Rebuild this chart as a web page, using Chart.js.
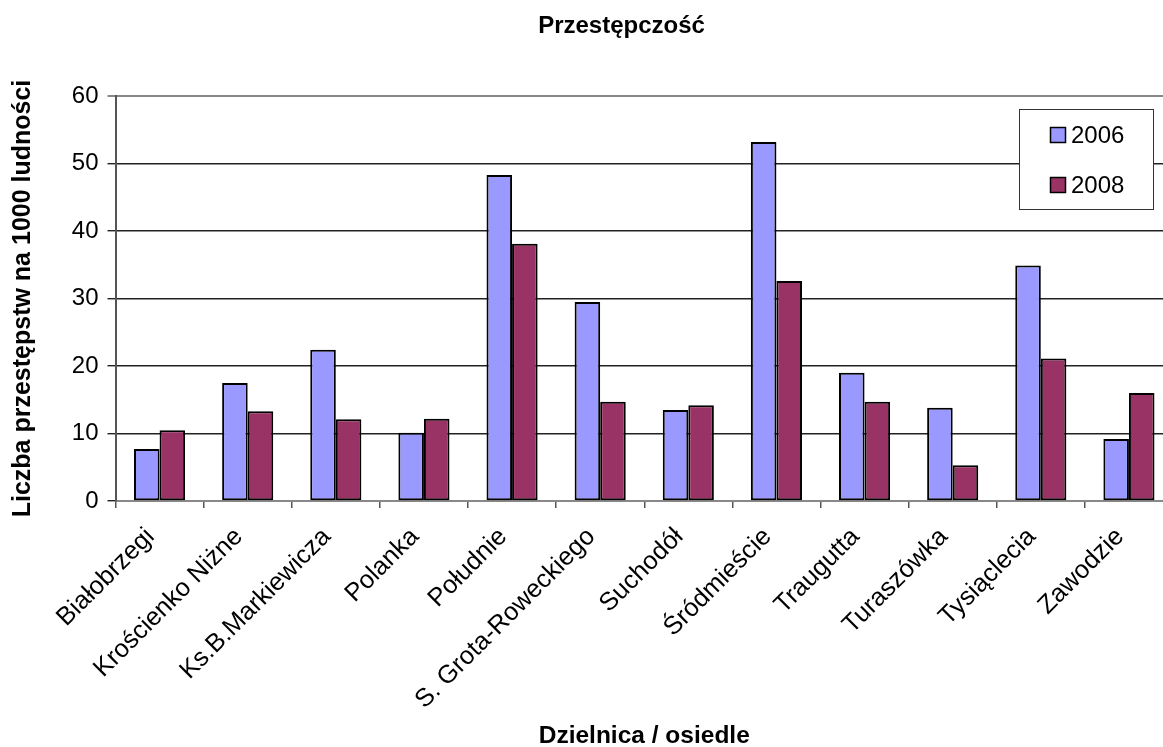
<!DOCTYPE html>
<html lang="pl">
<head>
<meta charset="utf-8">
<title>Przestępczość</title>
<script src="https://cdn.jsdelivr.net/npm/chart.js@4.4.1/dist/chart.umd.min.js"></script>
<style>
  html, body { margin: 0; padding: 0; background: #ffffff; overflow: hidden; }
  #wrap { width: 1163px; height: 747px; overflow: hidden; position: relative; }
  #chart { display: block; }
</style>
</head>
<body>
<div id="wrap"><canvas id="chart" width="1180" height="747"></canvas></div>
<script>
// Dzielnice / osiedla
const categories = [
  'Białobrzegi', 'Krościenko Niżne', 'Ks.B.Markiewicza', 'Polanka', 'Południe',
  'S. Grota-Roweckiego', 'Suchodół', 'Śródmieście', 'Traugutta', 'Turaszówka',
  'Tysiąclecia', 'Zawodzie'
];
// Liczba przestępstw na 1000 ludności
const values2006 = [7.7, 17.5, 22.4, 10.1, 48.3, 29.5, 13.5, 53.2, 19.0, 13.8, 34.9, 9.2];
const values2008 = [10.5, 13.3, 12.1, 12.2, 38.1, 14.7, 14.2, 32.6, 14.7, 5.3, 21.1, 16.0];
const seriesLabels = ['2006', '2008'];
const yTicks = [0, 10, 20, 30, 40, 50, 60];

const chartTitle = 'Przestępczość';
const xTitle = 'Dzielnica / osiedle';
const yTitle = 'Liczba przestępstw na 1000 ludności';

const FONT = '"Liberation Sans", Arial, sans-serif';
const colors = ['#9999FF', '#993366'];

// Chart heading, centred over the plot
const headingPlugin = {
  id: 'heading',
  afterDraw(chart) {
    const ctx = chart.ctx;
    ctx.save();
    ctx.font = 'bold 24px ' + FONT;
    ctx.fillStyle = '#000';
    ctx.textAlign = 'center';
    ctx.textBaseline = 'alphabetic';
    ctx.fillText(chartTitle, 621.5, 33);
    ctx.restore();
  }
};

// Boxed legend in the upper right of the plot
const boxLegendPlugin = {
  id: 'boxLegend',
  afterDraw(chart) {
    const ctx = chart.ctx;
    const x = 1019.5, y = 109.5, w = 134, h = 100;
    ctx.save();
    ctx.fillStyle = '#fff';
    ctx.fillRect(x, y, w, h);
    ctx.strokeStyle = '#333';
    ctx.lineWidth = 1;
    ctx.strokeRect(x, y, w, h);
    ctx.font = '24px ' + FONT;
    ctx.textAlign = 'left';
    ctx.textBaseline = 'middle';
    chart.data.datasets.forEach((ds, i) => {
      const cy = 135 + i * 50;
      ctx.fillStyle = ds.backgroundColor;
      ctx.fillRect(1050.5, cy - 7.5, 15, 15);
      ctx.strokeStyle = '#000';
      ctx.lineWidth = 1.5;
      ctx.strokeRect(1050.5, cy - 7.5, 15, 15);
      ctx.fillStyle = '#000';
      ctx.fillText(ds.label, 1071, cy + 1);
    });
    ctx.restore();
  }
};

new Chart(document.getElementById('chart'), {
  type: 'bar',
  data: {
    labels: categories,
    datasets: [
      { label: seriesLabels[0], data: values2006, backgroundColor: colors[0],
        borderColor: '#000', borderWidth: 2, borderSkipped: false },
      { label: seriesLabels[1], data: values2008, backgroundColor: colors[1],
        borderColor: '#000', borderWidth: 2, borderSkipped: false }
    ]
  },
  options: {
    responsive: false,
    animation: false,
    devicePixelRatio: 1,
    layout: { padding: { top: 96, right: 7, bottom: 0, left: 0 } },
    datasets: { bar: { categoryPercentage: 0.58, barPercentage: 1.0 } },
    plugins: {
      legend: { display: false },
      title: { display: false },
      tooltip: { enabled: false }
    },
    scales: {
      x: {
        afterFit(scale) { scale.height = 246; },
        grid: {
          offset: true,
          drawOnChartArea: false,
          drawTicks: true,
          tickLength: 7,
          color: '#555',
          lineWidth: 1.5
        },
        border: { display: true, color: '#888', width: 2 },
        ticks: {
          autoSkip: false,
          minRotation: 45,
          maxRotation: 45,
          padding: 14,
          labelOffset: -9,
          color: '#000',
          font: { family: FONT, size: 25.5 }
        },
        title: {
          display: true,
          text: xTitle,
          color: '#000',
          font: { family: FONT, size: 24.5, weight: 'bold' },
          padding: { top: 0, bottom: -4 }
        }
      },
      y: {
        min: 0,
        max: 60,
        afterFit(scale) { scale.width = 115.5; },
        afterBuildTicks(scale) { scale.ticks = yTicks.map(v => ({ value: v })); },
        grid: {
          drawTicks: true,
          tickLength: 8,
          color: (c) => (c.tick && c.tick.value === 60) ? '#888' : '#222',
          lineWidth: (c) => (c.tick && c.tick.value === 60) ? 2 : 1.4
        },
        border: { display: true, color: '#555', width: 2 },
        ticks: {
          padding: 9,
          color: '#000',
          font: { family: FONT, size: 24 }
        },
        title: {
          display: true,
          text: yTitle,
          color: '#000',
          font: { family: FONT, size: 25, weight: 'bold' },
          padding: { top: 8, bottom: 0 }
        }
      }
    }
  },
  plugins: [headingPlugin, boxLegendPlugin]
});
</script>
</body>
</html>
